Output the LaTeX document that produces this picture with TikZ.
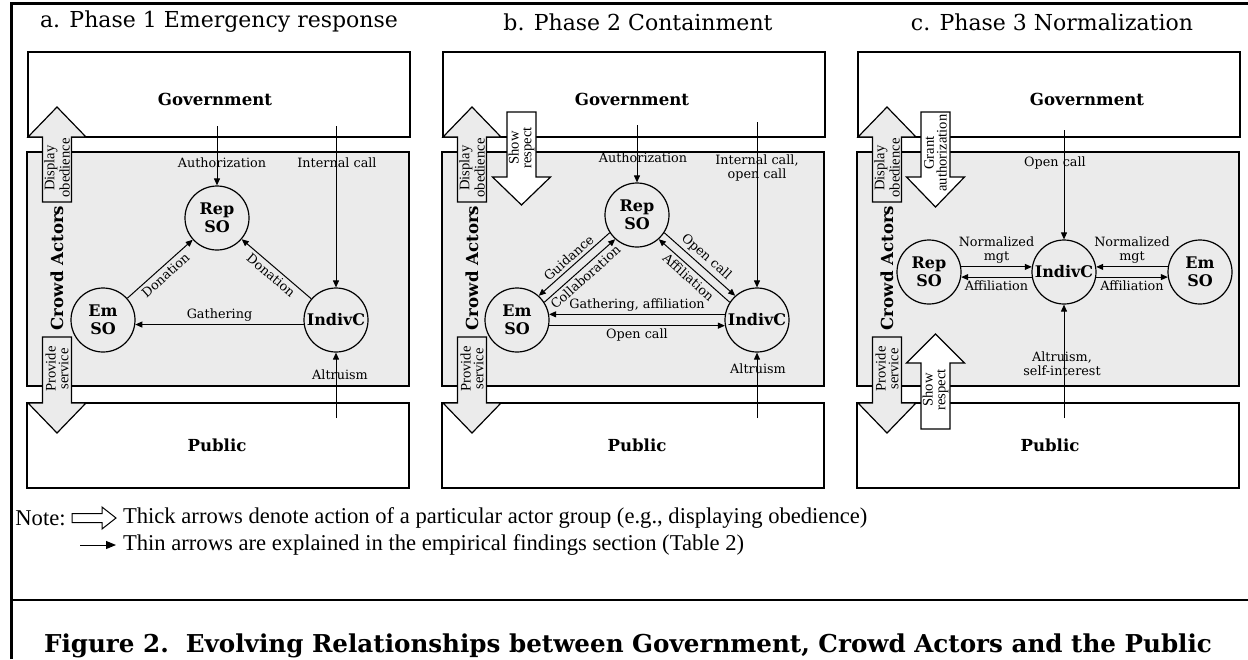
\documentclass[tikz,border=0pt]{standalone}
\usepackage{fontspec}
\setmainfont{DejaVu Serif}
\newfontfamily\notefont{Liberation Serif}
\usetikzlibrary{arrows.meta,calc}
\definecolor{crowdgray}{HTML}{EBEBEB}

% block arrow: centre x, tip y, head base y, tail y, fill
\newcommand{\thickarrow}[5]{%
  \draw[blockarrow, fill=#5] (#1-14.5,#4) -- (#1-14.5,#3) -- (#1-29,#3) -- (#1,#2)
    -- (#1+29,#3) -- (#1+14.5,#3) -- (#1+14.5,#4) -- cycle;}

\begin{document}
\begin{tikzpicture}[x=0.5pt, y=-0.5pt,
  panel/.style={draw, line width=0.6pt},
  actor/.style={circle, draw, fill=crowdgray, line width=0.6pt, minimum size=32pt, inner sep=0pt,
    align=center, font=\fontsize{8}{9}\selectfont\bfseries},
  boxlabel/.style={font=\fontsize{8.3}{10}\selectfont\bfseries},
  flow/.style={line width=0.5pt, -{Triangle[length=3.5pt,width=3pt]}},
  flowlabel/.style={font=\fontsize{6.4}{7.2}\selectfont, align=center, inner sep=1.5pt},
  blockarrow/.style={line width=0.6pt, line join=miter},
  arrowtext/.style={rotate=90, align=center, font=\notefont\fontsize{7.3}{6.3}\selectfont, inner sep=0pt},
  phase/.style={font=\fontsize{11}{13}\selectfont},
  notetext/.style={font=\notefont\fontsize{11.3}{13}\selectfont, anchor=west}]

\useasboundingbox (0,0) rectangle (1248,659);
% outer frame
\draw[line width=1.2pt] (11.5,659) -- (11.5,3.5) -- (1248,3.5);
\draw[line width=1.2pt] (11.5,600) -- (1248,600);

% three panels
\foreach \ox/\tag in {0/A,415/B,830/C}{
  \draw[panel, fill=white] (28+\ox,52) rectangle (410+\ox,137);
  \draw[panel, fill=crowdgray] (27+\ox,152) rectangle (409+\ox,386);
  \draw[panel, fill=white] (27+\ox,403) rectangle (409+\ox,488);
  \node[boxlabel, rotate=90] (crowd\tag) at (57+\ox,268) {Crowd Actors};
  \thickarrow{57+\ox}{107}{137}{202}{crowdgray}
  \node[arrowtext] (obey\tag) at (57+\ox,168) {Display\\obedience};
  \thickarrow{57+\ox}{433}{403}{337}{crowdgray}
  \node[arrowtext] (serve\tag) at (57+\ox,369) {Provide\\service};
}

\node[phase] (titleA) at (219,22) {a. Phase 1 Emergency response};
\node[phase] (titleB) at (638,22) {b. Phase 2 Containment};
\node[phase] (titleC) at (1052,22) {c. Phase 3 Normalization};

\node[boxlabel] (govA) at (215,99) {Government};
\node[boxlabel] (govB) at (632,99) {Government};
\node[boxlabel] (govC) at (1087,99) {Government};
\node[boxlabel] (pubA) at (217,445) {Public};
\node[boxlabel] (pubB) at (637,445) {Public};
\node[boxlabel] (pubC) at (1050,445) {Public};

% a. emergency response
\node[actor] (repA) at (217,218) {Rep\\SO};
\node[actor] (emA) at (103,320) {Em\\SO};
\node[actor] (indA) at (336,320) {IndivC};
\coordinate (authA) at (217,126);
\coordinate (callA) at (336,126);
\coordinate (altA) at (336,418);
\node[flowlabel] (authlabA) at (222,163) {Authorization};
\node[flowlabel] (calllabA) at (337,163) {Internal call};
\node[flowlabel] (altlabA) at (340,375) {Altruism};
\draw[flow] (authA) -- (repA);
\draw[flow] (callA) -- (indA);
\draw[flow] (altA) -- (indA);
\draw[flow] (indA.188) -- node[flowlabel, above] (gathA) {Gathering} (emA.352);
\draw[flow] (emA) -- node[flowlabel, sloped, below] (donA1) {Donation} (repA);
\draw[flow] (indA) -- node[flowlabel, sloped, below] (donA2) {Donation} (repA);

% b. containment
\thickarrow{521.5}{205}{177}{112}{white}
\node[arrowtext] (respB) at (521.5,148) {Show\\respect};
\node[actor] (repB) at (637,215) {Rep\\SO};
\node[actor] (emB) at (517,320) {Em\\SO};
\node[actor] (indB) at (757,320) {IndivC};
\coordinate (authB) at (637,125);
\coordinate (callB) at (757,122);
\coordinate (altB) at (757,418);
\node[flowlabel] (authlabB) at (643,158) {Authorization};
\node[flowlabel] (calllabB) at (757,168) {Internal call,\\open call};
\node[flowlabel] (altlabB) at (758,369) {Altruism};
\draw[flow] (authB) -- (repB);
\draw[flow] (callB) -- (indB);
\draw[flow] (altB) -- (indB);
\draw[flow] (repB.213) -- node[flowlabel, sloped, above] (guidB) {Guidance} (emB.48);
\draw[flow] (emB.33) -- node[flowlabel, sloped, below] (collB) {Collaboration} (repB.228);
\draw[flow] (repB.327) -- node[flowlabel, sloped, above] (openB1) {Open call} (indB.132);
\draw[flow] (indB.147) -- node[flowlabel, sloped, below] (affB) {Affiliation} (repB.312);
\draw[flow] (indB.170) -- node[flowlabel, above] (gathB) {Gathering, affiliation} (emB.10);
\draw[flow] (emB.350) -- node[flowlabel, below] (openB2) {Open call} (indB.190);

% c. normalization
\thickarrow{935.5}{207}{177}{112}{white}
\node[arrowtext] (grantC) at (935.5,153) {Grant\\authorization};
\thickarrow{935.5}{334}{363}{429}{white}
\node[arrowtext] (respC) at (935.5,390) {Show\\respect};
\node[actor] (repC) at (929,272) {Rep\\SO};
\node[actor] (indC) at (1064,272) {IndivC};
\node[actor] (emC) at (1200,272) {Em\\SO};
\coordinate (openC) at (1064,130);
\coordinate (altC) at (1064,418);
\node[flowlabel] (openlabC) at (1055,163) {Open call};
\node[flowlabel] (altlabC) at (1062,364) {Altruism,\\self-interest};
\draw[flow] (openC) -- (indC);
\draw[flow] (altC) -- (indC);
\draw[flow] (repC.9) -- node[flowlabel, above] (normC1) {Normalized\\mgt} (indC.171);
\draw[flow] (indC.189) -- node[flowlabel, below] (affC1) {Affiliation} (repC.351);
\draw[flow] (emC.171) -- node[flowlabel, above] (normC2) {Normalized\\mgt} (indC.9);
\draw[flow] (indC.351) -- node[flowlabel, below] (affC2) {Affiliation} (emC.189);

% note
\node[notetext, inner sep=0pt] (notelbl) at (15,518) {Note:};
\draw[line width=0.5pt] (72,513.5) -- (102,513.5) -- (102,507) -- (116,518) -- (102,529)
  -- (102,522.5) -- (72,522.5) -- cycle;
\node[notetext] (notethick) at (116,518) {Thick arrows denote action of a particular actor group (e.g., displaying obedience)};
\coordinate (thinstart) at (80,545);
\node[notetext] (notethin) at (116,545) {Thin arrows are explained in the empirical findings section (Table 2)};
\draw[line width=0.5pt, -{Triangle[length=5pt,width=4pt]}] (thinstart) -- (notethin.west);

\node[font=\fontsize{12.3}{14}\selectfont\bfseries] (caption) at (628,646)
  {Figure 2.\ \ Evolving Relationships between Government, Crowd Actors and the Public};
\end{tikzpicture}
\end{document}
